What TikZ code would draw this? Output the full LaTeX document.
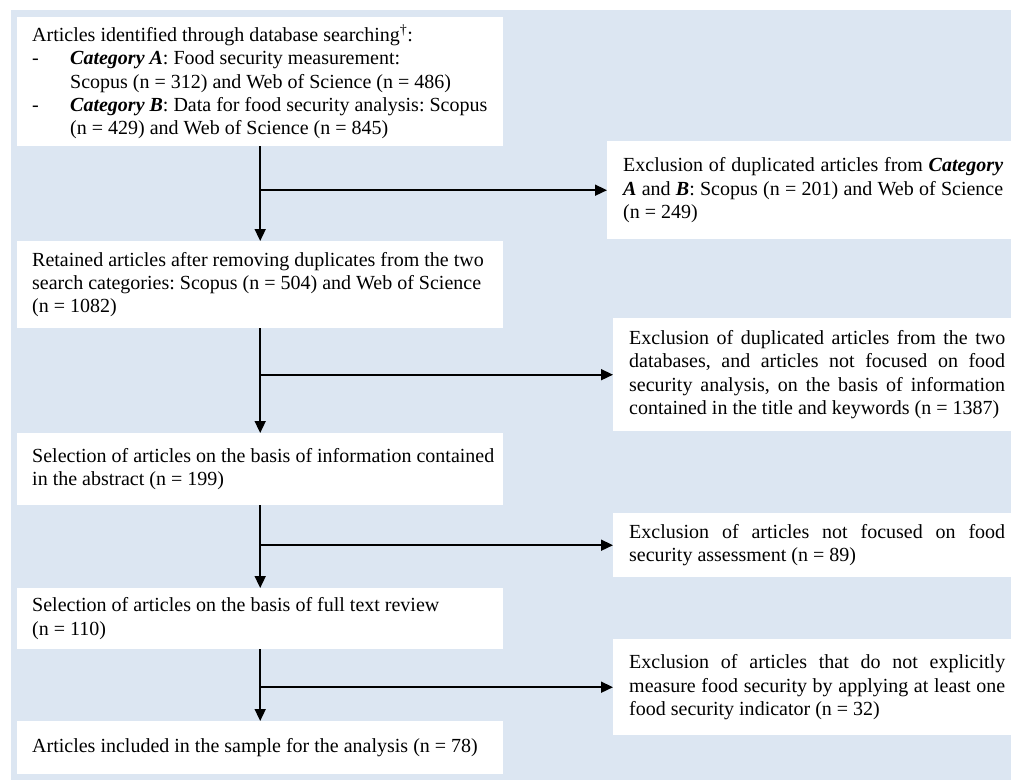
\documentclass[tikz,border=0pt]{standalone}
\usepackage{fontspec}
\setmainfont{Liberation Serif}
\usetikzlibrary{arrows.meta}
\definecolor{bgblue}{RGB}{220,230,242}
\newcommand{\jl}[1]{\makebox[\linewidth][s]{#1}}
\newcommand{\bi}[1]{\textbf{\textit{#1}}}

\tikzset{
  box/.style={fill=white, anchor=north west, inner ysep=0pt, align=flush left,
              font=\fontsize{20}{23.3}\selectfont,
              execute at begin node={\spaceskip=0pt\xspaceskip=0pt\frenchspacing\hyphenpenalty=10000}},
  lbox/.style={box, inner xsep=15pt, text width=456pt},
  rbox/.style={box, inner xsep=16pt, text width=376pt},
  flow/.style={line width=1.6pt, -{Triangle[length=12pt,width=11pt]}}
}

\begin{document}
\begin{tikzpicture}[x=1pt,y=-1pt]
      \useasboundingbox (0,0) rectangle (1011,780);
      \clip (0,0) rectangle (1011,780);
      \fill[bgblue] (11,10) rectangle (1011,780);
      % left column
      \node[lbox, minimum height=129pt] (ident) at (17,17)
        {Articles identified through database searching\textsuperscript{\textdagger}:\\
         \makebox[38pt][l]{-}\bi{Category A}: Food security measurement:\\
         \hspace*{38pt}Scopus (n = 312) and Web of Science (n = 486)\\
         \makebox[38pt][l]{-}\bi{Category B}: Data for food security analysis: Scopus\\
         \hspace*{38pt}(n = 429) and Web of Science (n = 845)};
      \node[lbox, minimum height=87pt] (retain) at (17,241)
        {\mbox{Retained articles after removing duplicates from the two}\\
         \mbox{search categories: Scopus (n = 504) and Web of Science}\\
         (n = 1082)};
      \node[lbox, minimum height=72pt] (abstr) at (17,433)
        {\mbox{Selection of articles on the basis of information contained}\\
         in the abstract (n = 199)};
      \node[lbox, minimum height=61pt] (fulltxt) at (17,588)
        {Selection of articles on the basis of full text review\\
         (n = 110)};
      \node[lbox, minimum height=53pt] (incl) at (17,721)
        {Articles included in the sample for the analysis (n = 78)};
      % right column
      \node[rbox, text width=380pt, minimum height=98pt] (exdup) at (607,141)
        {\jl{Exclusion of duplicated articles from \bi{Category}}\\
         \jl{\bi{A} and \bi{B}: Scopus (n = 201) and Web of Science}\\
         (n = 249)};
      \node[rbox, minimum height=113pt] (exdb) at (613,318)
        {\jl{Exclusion of duplicated articles from the two}\\
         \jl{databases, and articles not focused on food}\\
         \jl{security analysis, on the basis of information}\\
         contained in the title and keywords (n = 1387)};
      \node[rbox, minimum height=64pt] (exfocus) at (613,513)
        {\jl{Exclusion of articles not focused on food}\\
         security assessment (n = 89)};
      \node[rbox, minimum height=96pt] (exind) at (613,639)
        {\jl{Exclusion of articles that do not explicitly}\\
         \jl{measure food security by applying at least one}\\
         food security indicator (n = 32)};
      % connectors
      \draw[flow] (ident.south) -- (retain.north);
      \draw[flow] (retain.south) -- (abstr.north);
      \draw[flow] (abstr.south) -- (fulltxt.north);
      \draw[flow] (fulltxt.south) -- (incl.north);
      \draw[flow] (ident.south |- exdup.west) -- (exdup.west);
      \draw[flow] (retain.south |- exdb.west) -- (exdb.west);
      \draw[flow] (abstr.south |- exfocus.west) -- (exfocus.west);
      \draw[flow] (fulltxt.south |- exind.west) -- (exind.west);
\end{tikzpicture}
\end{document}
